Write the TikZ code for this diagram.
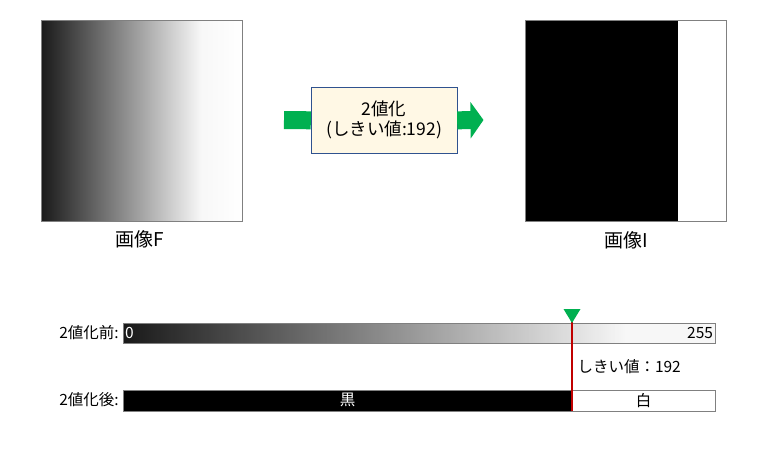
\documentclass[tikz,border=0pt]{standalone}
\usepackage{fontspec}
\setmainfont{Noto Sans CJK JP}
\usetikzlibrary{arrows.meta,positioning}

\definecolor{okgreen}{RGB}{0,176,80}
\definecolor{boxfill}{RGB}{255,248,229}
\definecolor{boxline}{RGB}{47,82,143}
\definecolor{framegray}{RGB}{128,128,128}
\definecolor{redline}{RGB}{192,0,0}

\begin{document}
\begin{tikzpicture}[x=1pt,y=-1pt]
    \useasboundingbox (0,0) rectangle (768,450);

    % gradient of image F, slice by slice
    \foreach \i in {0,...,200} {
        \pgfmathsetmacro\shade{100*(1-min(0.1+0.87*(\i/200)/0.8, 0.97+0.03*(\i/200-0.8)/0.2))}
        \fill[black!\shade] (41+\i,20) rectangle (42.2+\i,221);
    }
    % gradient of the bar before binarization
    \foreach \i in {0,...,295} {
        \pgfmathsetmacro\shade{100*(1-min(0.1+1.02*(\i/295), 0.97))}
        \fill[black!\shade] (123+2*\i,323.3) rectangle (125.4+2*\i,343.3);
    }

    % input / output images
    \begin{scope}[every node/.style={draw=framegray, inner sep=0pt, minimum width=201pt, minimum height=201pt}]
        \node (F) at (141.5,120.5) {};
        \node (I) [fill=white, path picture={\fill[black] (path picture bounding box.north west) rectangle ([xshift=-48pt]path picture bounding box.south east);}] at (625.5,120.5) {};
    \end{scope}

    \node (Fcap) at (140,239) {\fontsize{19}{22}\selectfont 画像F};
    \node (Icap) at (626,240) {\fontsize{19}{22}\selectfont 画像I};

    % binarization step
    \node (conv) [draw=boxline, fill=boxfill, minimum width=146pt, minimum height=66pt, align=center,
        font=\fontsize{17.5}{20}\selectfont] at (384,120.3) {2値化\\(しきい値:192)};
    \coordinate (ain) at (284,120);
    \coordinate (aout) at (483.5,120);
    \draw[okgreen, line width=18pt] (ain) -- (conv.west);
    \draw[okgreen, line width=18pt, -{Triangle[width=36pt,length=13pt]}] (conv.east) -- (aout);

    % bars before / after
    \begin{scope}[every node/.style={font=\fontsize{15.5}{18}\selectfont}]
        \node (before) [draw=framegray, minimum width=592pt, minimum height=20pt, inner sep=0pt] at (419,333.3) {};
        \node (zero) [anchor=west, white, inner sep=2pt] at (before.west) {0};
        \node (full) [anchor=east, inner sep=2pt] at (before.east) {255};

        \node (blk) [fill=black, text=white, minimum width=449pt, minimum height=21pt, inner sep=0pt] at (347.5,400.3) {黒};
        \node (wht) [fill=white, minimum width=143pt, minimum height=21pt, inner sep=0pt] at (643.5,400.3) {白};
        \node (after) [draw=framegray, minimum width=592pt, minimum height=21pt, inner sep=0pt] at (419,400.3) {};

        \node (lbefore) [anchor=east, inner sep=1pt] at (120,333) {2値化前:};
        \node (lafter) [anchor=east, inner sep=1pt] at (120,400) {2値化後:};
        \node (thlabel) [anchor=west] at (574,367) {しきい値：192};
    \end{scope}

    % threshold marker
    \coordinate (thtop) at (572,318);
    \draw[redline, line width=1.6pt] (thtop) -- (thtop |- after.south);
    \fill[okgreen] (563.5,309) -- (580.5,309) -- (572,323) -- cycle;
\end{tikzpicture}
\end{document}
